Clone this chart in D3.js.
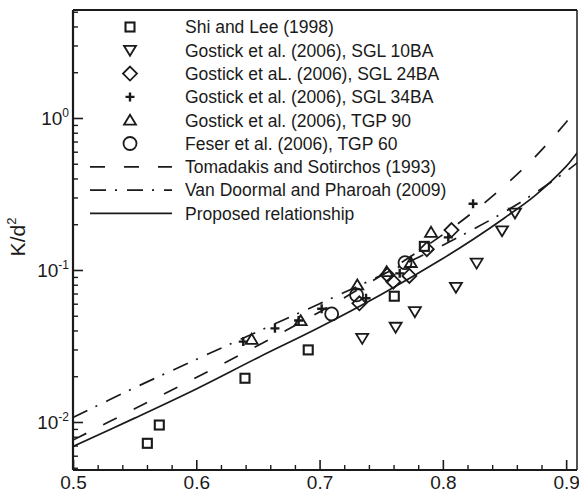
<!DOCTYPE html>
<html>
<head>
<meta charset="utf-8">
<script src="https://cdn.jsdelivr.net/npm/d3@7"></script>
<style>
  body { margin: 0; background: #fff; }
  text { font-family: "Liberation Sans", Arial, Helvetica, sans-serif; fill: #1a1a1a; }
</style>
</head>
<body>
<div id="chart"></div>
<script>
// porosity values where the model curves were read
const porosity = [0.5, 0.55, 0.6, 0.65, 0.7, 0.75, 0.8, 0.825, 0.85, 0.875, 0.9, 0.909];
const tomadakis = [0.0076, 0.0122, 0.0196, 0.0319, 0.053, 0.092, 0.171, 0.242, 0.358, 0.557, 0.938, 1.16];
const vanDoormaal = [0.0107, 0.0168, 0.0258, 0.0394, 0.060, 0.0923, 0.1456, 0.186, 0.241, 0.322, 0.445, 0.507];
const proposed = [0.0069, 0.0106, 0.0165, 0.0265, 0.042, 0.069, 0.119, 0.160, 0.22, 0.31, 0.48, 0.59];

// experimental points [porosity, K/d^2]
const shiLee = [[0.5603, 0.00724], [0.570, 0.00955], [0.6395, 0.0194], [0.6908, 0.0298], [0.7606, 0.0672], [0.785, 0.143]];
const sgl10ba = [[0.7346, 0.0355], [0.7617, 0.042], [0.7773, 0.0532], [0.8106, 0.0769], [0.8274, 0.111], [0.848, 0.181], [0.8585, 0.237]];
const sgl24ba = [[0.7323, 0.0604], [0.755, 0.0927], [0.7598, 0.0838], [0.7728, 0.0914], [0.787, 0.137], [0.807, 0.183]];
const sgl34ba = [[0.6381, 0.0338], [0.6638, 0.0413], [0.683, 0.0465], [0.7017, 0.0556], [0.7377, 0.0651], [0.765, 0.095], [0.8044, 0.164], [0.8245, 0.273]];
const tgp90 = [[0.6449, 0.035], [0.6847, 0.0464], [0.7306, 0.0797], [0.7544, 0.0975], [0.774, 0.112], [0.7904, 0.177]];
const tgp60 = [[0.7098, 0.0514], [0.730, 0.0685], [0.7693, 0.1117]];

const xTicks = [0.5, 0.6, 0.7, 0.8, 0.9];
const yTicks = [0.01, 0.1, 1];
const yExponents = ["-2", "-1", "0"];

const legendLabels = [
  "Shi and Lee (1998)",
  "Gostick et al. (2006), SGL 10BA",
  "Gostick et aL. (2006), SGL 24BA",
  "Gostick et al. (2006), SGL 34BA",
  "Gostick et al. (2006), TGP 90",
  "Feser et al. (2006), TGP 60",
  "Tomadakis and Sotirchos (1993)",
  "Van Doormal and Pharoah (2009)",
  "Proposed relationship"
];

const W = 579, H = 492;
const pLeft = 73, pRight = 577, pTop = 10, pBottom = 470;
const ink = "#1a1a1a";

const svg = d3.select("#chart").append("svg")
  .attr("width", W).attr("height", H);

const x = d3.scaleLinear().domain([0.5, 0.9088]).range([pLeft, pRight]);
const y = d3.scaleLog().domain([0.004832, 5.134]).range([pBottom, pTop]);

svg.append("clipPath").attr("id", "clip")
  .append("rect").attr("x", pLeft).attr("y", pTop)
  .attr("width", pRight - pLeft).attr("height", pBottom - pTop);

// minor ticks
const xMinor = d3.range(0.52, 0.909, 0.02).filter(v => Math.abs(v * 10 - Math.round(v * 10)) > 0.01);
svg.append("g")
  .attr("transform", "translate(0," + pBottom + ")")
  .call(d3.axisBottom(x).tickValues(xMinor).tickSize(-5).tickFormat(""))
  .call(g => g.select(".domain").remove())
  .call(g => g.selectAll("line").attr("stroke", ink).attr("stroke-width", 1.4));

const yMinor = [];
[-3, -2, -1, 0].forEach(k => {
  for (let m = 2; m <= 9; m++) {
    const v = m * Math.pow(10, k);
    if (v > y.domain()[0] && v < y.domain()[1]) yMinor.push(v);
  }
});
svg.append("g")
  .attr("transform", "translate(" + pLeft + ",0)")
  .call(d3.axisLeft(y).tickValues(yMinor).tickSize(-5).tickFormat(""))
  .call(g => g.select(".domain").remove())
  .call(g => g.selectAll("line").attr("stroke", ink).attr("stroke-width", 1.4));

// major ticks and labels
svg.append("g")
  .attr("transform", "translate(0," + pBottom + ")")
  .call(d3.axisBottom(x).tickValues(xTicks).tickSize(-10).tickPadding(6).tickFormat(d3.format(".1f")))
  .call(g => g.select(".domain").remove())
  .call(g => g.selectAll("line").attr("stroke", ink).attr("stroke-width", 1.6))
  .call(g => g.selectAll("text").attr("font-size", 19).attr("fill", ink)
    .attr("font-family", "'Liberation Sans', Arial, sans-serif"));

const yAxis = svg.append("g")
  .attr("transform", "translate(" + pLeft + ",0)")
  .call(d3.axisLeft(y).tickValues(yTicks).tickSize(-10).tickPadding(4).tickFormat(""))
  .call(g => g.select(".domain").remove())
  .call(g => g.selectAll("line").attr("stroke", ink).attr("stroke-width", 1.6));

yAxis.selectAll(".tick text")
  .attr("font-size", 19).attr("fill", ink)
  .attr("font-family", "'Liberation Sans', Arial, sans-serif")
  .each(function(d, i) {
    const t = d3.select(this);
    t.text(null);
    t.append("tspan").text("10");
    t.append("tspan").attr("font-size", 12).attr("dy", -8).text(yExponents[i]);
  });

// frame
svg.append("line").attr("x1", pLeft).attr("x2", pRight).attr("y1", pTop).attr("y2", pTop)
  .attr("stroke", ink).attr("stroke-width", 2);
svg.append("line").attr("x1", pRight).attr("x2", pRight).attr("y1", pTop).attr("y2", pBottom)
  .attr("stroke", ink).attr("stroke-width", 1.5);
svg.append("line").attr("x1", pLeft).attr("x2", pRight).attr("y1", pBottom).attr("y2", pBottom)
  .attr("stroke", ink).attr("stroke-width", 2.2);
svg.append("line").attr("x1", pLeft).attr("x2", pLeft).attr("y1", pTop).attr("y2", pBottom)
  .attr("stroke", ink).attr("stroke-width", 2.2);

// y title
svg.append("text")
  .attr("transform", "translate(25,237) rotate(-90)")
  .attr("text-anchor", "middle")
  .attr("font-size", 21)
  .call(t => {
    t.append("tspan").text("K/d");
    t.append("tspan").attr("font-size", 13).attr("dy", -9).text("2");
  });

// curves
const dashes = { tom: "15,19", van: "16,9,2,10", prop: null };
const line = d3.line()
  .x((d, i) => x(porosity[i]))
  .y(d => y(d))
  .curve(d3.curveCatmullRom);

const curveG = svg.append("g").attr("clip-path", "url(#clip)");
[[tomadakis, dashes.tom], [vanDoormaal, dashes.van], [proposed, dashes.prop]].forEach(([vals, da]) => {
  curveG.append("path")
    .datum(vals)
    .attr("d", line)
    .attr("fill", "none")
    .attr("stroke", ink)
    .attr("stroke-width", 1.7)
    .attr("stroke-dasharray", da);
});

// marker shapes
function drawMarker(g, type, cx, cy) {
  const sw = 1.8;
  if (type === "square") {
    g.append("rect").attr("x", cx - 4.5).attr("y", cy - 4.5).attr("width", 9).attr("height", 9)
      .attr("fill", "none").attr("stroke", ink).attr("stroke-width", sw + 0.3);
  } else if (type === "tdown") {
    g.append("path").attr("d", `M${cx - 6},${cy - 4.5}L${cx + 6},${cy - 4.5}L${cx},${cy + 5.5}Z`)
      .attr("fill", "none").attr("stroke", ink).attr("stroke-width", sw);
  } else if (type === "tup") {
    g.append("path").attr("d", `M${cx - 6},${cy + 4.5}L${cx + 6},${cy + 4.5}L${cx},${cy - 5.5}Z`)
      .attr("fill", "none").attr("stroke", ink).attr("stroke-width", sw);
  } else if (type === "diamond") {
    g.append("path").attr("d", `M${cx},${cy - 7}L${cx + 7},${cy}L${cx},${cy + 7}L${cx - 7},${cy}Z`)
      .attr("fill", "none").attr("stroke", ink).attr("stroke-width", sw);
  } else if (type === "plus") {
    g.append("path").attr("d", `M${cx - 4.5},${cy}H${cx + 4.5}M${cx},${cy - 4.5}V${cy + 4.5}`)
      .attr("fill", "none").attr("stroke", ink).attr("stroke-width", 2.4);
  } else if (type === "circle") {
    g.append("circle").attr("cx", cx).attr("cy", cy).attr("r", 6.5)
      .attr("fill", "none").attr("stroke", ink).attr("stroke-width", sw);
  }
}

const series = [
  [shiLee, "square"], [sgl10ba, "tdown"], [sgl24ba, "diamond"],
  [sgl34ba, "plus"], [tgp90, "tup"], [tgp60, "circle"]
];
const pointG = svg.append("g");
series.forEach(([pts, type]) => {
  pts.forEach(p => drawMarker(pointG, type, x(p[0]), y(p[1])));
});

// legend
const legG = svg.append("g");
const rowY = i => 27 + 23.3 * i;
series.forEach(([pts, type], i) => drawMarker(legG, type, 130, rowY(i)));
[dashes.tom, dashes.van, dashes.prop].forEach((da, j) => {
  legG.append("line")
    .attr("x1", 90).attr("x2", 172)
    .attr("y1", rowY(6 + j)).attr("y2", rowY(6 + j))
    .attr("stroke", ink).attr("stroke-width", 1.7)
    .attr("stroke-dasharray", da);
});
legG.selectAll("text.leg")
  .data(legendLabels)
  .enter().append("text")
  .attr("class", "leg")
  .attr("x", 185)
  .attr("y", (d, i) => rowY(i))
  .attr("dy", "0.36em")
  .attr("font-size", 17.5)
  .text(d => d);
</script>
</body>
</html>
